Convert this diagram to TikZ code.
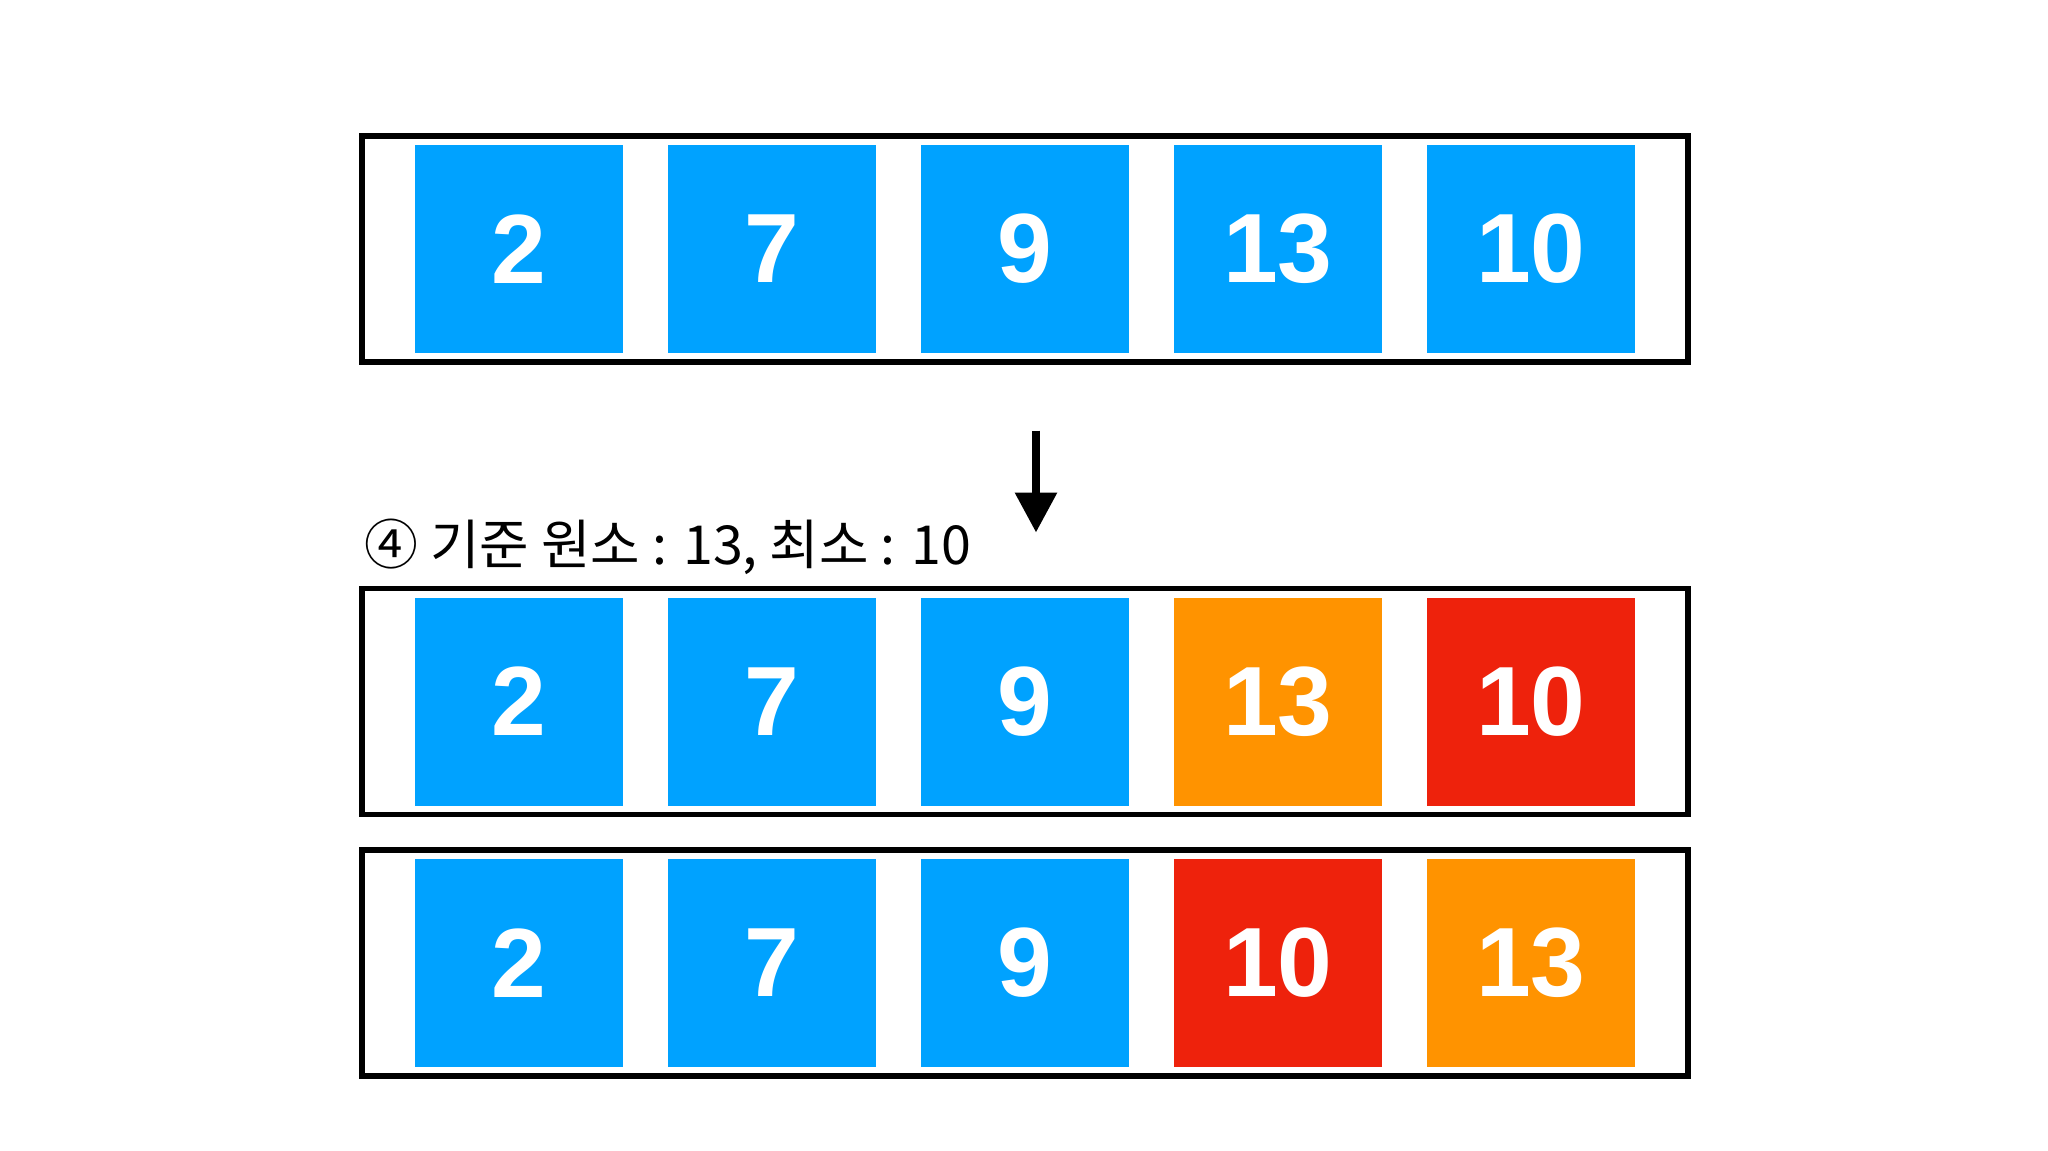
\documentclass[tikz,border=0pt]{standalone}
\usepackage{fontspec}
\setmainfont{Liberation Sans}
\newfontfamily\krfont{Noto Sans CJK KR}
\usepackage{tikz}
\usetikzlibrary{arrows.meta, positioning}
\definecolor{cellblue}{HTML}{00A2FF}
\definecolor{pivotorange}{HTML}{FF9300}
\definecolor{minred}{HTML}{EE220C}

\begin{document}
\begin{tikzpicture}[
    cell/.style={rectangle, minimum width=2.08cm, minimum height=2.08cm,
                 inner sep=0pt, text=white,
                 font=\fontsize{28}{28}\selectfont\bfseries},
    arrayframe/.style={rectangle, draw=black, line width=1.5pt,
                       minimum width=13.26cm, minimum height=2.26cm, inner sep=0pt},
]
\useasboundingbox (0,0) rectangle (20.48,-11.51);
% Array frames
\node[arrayframe] (row1) at (10.25,-2.49) {};
\node[arrayframe] (row2) at (10.25,-7.015) {};
\node[arrayframe] (row3) at (10.25,-9.63) {};
% Cells
\foreach \v/\c [count=\i from 0] in {2/cellblue, 7/cellblue, 9/cellblue, 13/cellblue, 10/cellblue}
    \node[cell, fill=\c] (a\i) at (5.19+2.53*\i, -2.49) {\v};
\foreach \v/\c [count=\i from 0] in {2/cellblue, 7/cellblue, 9/cellblue, 13/pivotorange, 10/minred}
    \node[cell, fill=\c] (b\i) at (5.19+2.53*\i, -7.015) {\v};
\foreach \v/\c [count=\i from 0] in {2/cellblue, 7/cellblue, 9/cellblue, 10/minred, 13/pivotorange}
    \node[cell, fill=\c] (c\i) at (5.19+2.53*\i, -9.63) {\v};
% Step label and arrow
\node[anchor=west, font=\krfont\fontsize{15.3}{15.3}\selectfont] (note) at (3.52,-5.47)
    {④ 기준 원소 : 13, 최소 : 10};
\coordinate[below=0.66cm of row1.south, xshift=0.11cm] (arrtop);
\coordinate[below=1.02cm of arrtop] (arrtip);
\draw[line width=2.5pt, -{Triangle[width=0.4cm, length=0.4cm]}] (arrtop) -- (arrtip);
\end{tikzpicture}
\end{document}
